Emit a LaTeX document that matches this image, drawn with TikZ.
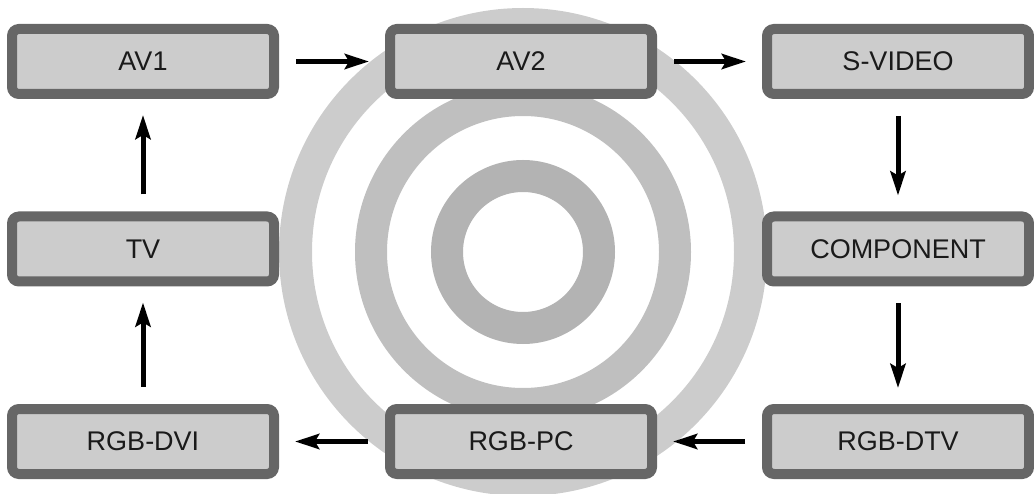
\documentclass[tikz,border=0pt]{standalone}
\usepackage{fontspec}
\setmainfont{Liberation Sans}
\usetikzlibrary{arrows.meta}

\definecolor{boxline}{HTML}{666666}
\definecolor{boxfill}{HTML}{CCCCCC}
\definecolor{ringouter}{HTML}{CCCCCC}
\definecolor{ringmid}{HTML}{BFBFBF}
\definecolor{ringinner}{HTML}{B3B3B3}
\definecolor{labeltext}{HTML}{1A1A1A}

\tikzset{
  srcbox/.style={draw=boxline, fill=boxfill, line width=10pt, rounded corners=7pt,
    minimum width=262pt, minimum height=65pt, inner sep=0pt,
    font=\fontsize{27}{31}\selectfont, text=labeltext},
  flow/.style={-{Stealth[length=24pt,width=15pt,inset=4pt]}, line width=5pt,
    shorten <=17pt, shorten >=16pt}
}

\begin{document}
\begin{tikzpicture}[x=1pt,y=-1pt]
        \useasboundingbox (0,0) rectangle (1034,494);
        % rings in the background
        \draw[ringouter, line width=33pt] (523,252) circle (227.5pt);
        \draw[ringmid, line width=32pt] (523,252) circle (152pt);
        \draw[ringinner, line width=32pt] (523,252) circle (76pt);
        % sources
        \node[srcbox] (av1)  at (143,61.5)  {AV1};
        \node[srcbox] (av2)  at (521,61.5)  {AV2};
        \node[srcbox] (svid) at (898,61.5)  {S-VIDEO};
        \node[srcbox] (tv)   at (143,249)   {TV};
        \node[srcbox] (comp) at (898,249)   {COMPONENT};
        \node[srcbox] (dvi)  at (143,441.5) {RGB-DVI};
        \node[srcbox] (pc)   at (521,441.5) {RGB-PC};
        \node[srcbox] (dtv)  at (898,441.5) {RGB-DTV};
        % switching order
        \draw[flow] (av1) -- (av2);
        \draw[flow] (av2) -- (svid);
        \draw[flow] (svid) -- (comp);
        \draw[flow] (comp) -- (dtv);
        \draw[flow] (dtv) -- (pc);
        \draw[flow] (pc) -- (dvi);
        \draw[flow] (dvi) -- (tv);
        \draw[flow] (tv) -- (av1);
\end{tikzpicture}
\end{document}
